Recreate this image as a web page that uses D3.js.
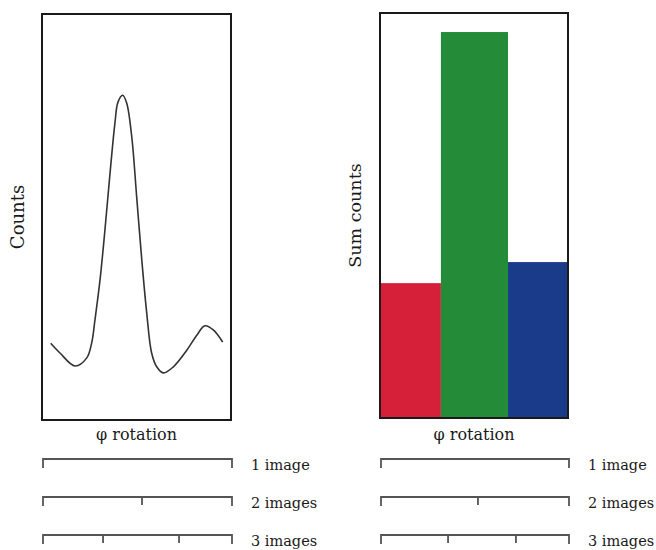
<!DOCTYPE html>
<html>
<head>
<meta charset="utf-8">
<script src="https://cdn.jsdelivr.net/npm/d3@7"></script>
<style>
  body { margin: 0; background: #fff; }
  text { font-family: "DejaVu Serif", serif; fill: #1a1a1a; }
</style>
</head>
<body>
<svg width="656" height="550"></svg>
<script>
// left panel: counts along phi rotation
const phi = [4.6, 9.5, 17.5, 23.7, 26.3, 28.0, 30.7, 33.3, 36.0, 38.6, 40.2, 42.7, 44.8,
             47.5, 50.1, 52.8, 55.4, 58.0, 60.7, 64.2, 69.5, 76.6, 81.9, 86.2, 90.6, 95.6]
const counts = [18.9, 16.5, 13.3, 15.3, 19.0, 24.6, 34.5, 46.8, 60.8, 73.2, 78.3, 80.0, 78.1,
                69.7, 54.9, 39.4, 26.4, 16.5, 13.1, 11.6, 13.1, 17.2, 20.9, 23.2, 22.2, 19.2]

// right panel: summed counts per image
const binEdges = [0, 32.4, 68.1, 100]
const sumCounts = [33.3, 95.3, 38.5]
const barColors = ["#d6203a", "#248b38", "#1a3a8a"]

// brackets under each panel
const imageLabels = ["1 image", "2 images", "3 images"]
const leftSplits = [[], [52.9], [32.3, 72.5]]
const rightSplits = [[], [52.1], [36.2, 72.3]]

let svg = d3.select("svg")

let xL = d3.scaleLinear().domain([0, 100]).range([42, 231])
let yL = d3.scaleLinear().domain([0, 100]).range([420, 14])
let xR = d3.scaleLinear().domain([0, 100]).range([380, 568])
let yR = d3.scaleLinear().domain([0, 100]).range([418, 13])

function title(x, y, size, str, rotate) {
    svg.append("text")
        .attr("transform", "translate(" + x + "," + y + ")" + (rotate ? " rotate(-90)" : ""))
        .attr("text-anchor", "middle")
        .style("font-size", size + "px")
        .text(str)
}

// ---- left: line
let line = d3.line()
    .x(function(d, i) { return xL(phi[i]) })
    .y(function(d) { return yL(d) })
    .curve(d3.curveCatmullRom)

svg.append("path")
    .datum(counts)
    .attr("d", line)
    .attr("fill", "none")
    .attr("stroke", "#333")
    .attr("stroke-width", 1.6)

svg.append("rect")
    .attr("x", xL(0)).attr("y", yL(100))
    .attr("width", xL(100) - xL(0)).attr("height", yL(0) - yL(100))
    .attr("fill", "none").attr("stroke", "#1a1a1a").attr("stroke-width", 2)

// ---- right: bars
svg.selectAll(".bar")
    .data(sumCounts)
    .enter().append("rect")
    .attr("class", "bar")
    .attr("x", function(d, i) { return xR(binEdges[i]) })
    .attr("width", function(d, i) { return xR(binEdges[i + 1]) - xR(binEdges[i]) })
    .attr("y", function(d) { return yR(d) })
    .attr("height", function(d) { return yR(0) - yR(d) })
    .attr("fill", function(d, i) { return barColors[i] })

svg.append("rect")
    .attr("x", xR(0)).attr("y", yR(100))
    .attr("width", xR(100) - xR(0)).attr("height", yR(0) - yR(100))
    .attr("fill", "none").attr("stroke", "#1a1a1a").attr("stroke-width", 2)

// axis titles
title((xL(0) + xL(100)) / 2, 440, 16, "\u03c6 rotation")
title((xR(0) + xR(100)) / 2, 440, 16, "\u03c6 rotation")
title(24, (yL(0) + yL(100)) / 2, 18, "Counts", true)
title(361, (yR(0) + yR(100)) / 2, 17.5, "Sum counts", true)

// ---- brackets
const rowY = [459, 497, 535]

function brackets(x, splits) {
    splits.forEach(function(s, i) {
        let y = rowY[i]
        let x0 = x(0) + 1, x1 = x(100) + 1
        let d = "M" + x0 + "," + (y + 9) + "V" + y + "H" + x1 + "V" + (y + 9)
        s.forEach(function(v) { d += "M" + x(v) + "," + y + "V" + (y + 8) })
        svg.append("path")
            .attr("d", d)
            .attr("fill", "none")
            .attr("stroke", "#555")
            .attr("stroke-width", 1.8)
        svg.append("text")
            .attr("x", x1 + 19)
            .attr("y", y + 11)
            .style("font-size", "14.5px")
            .text(imageLabels[i])
    })
}
brackets(xL, leftSplits)
brackets(xR, rightSplits)
</script>
</body>
</html>
